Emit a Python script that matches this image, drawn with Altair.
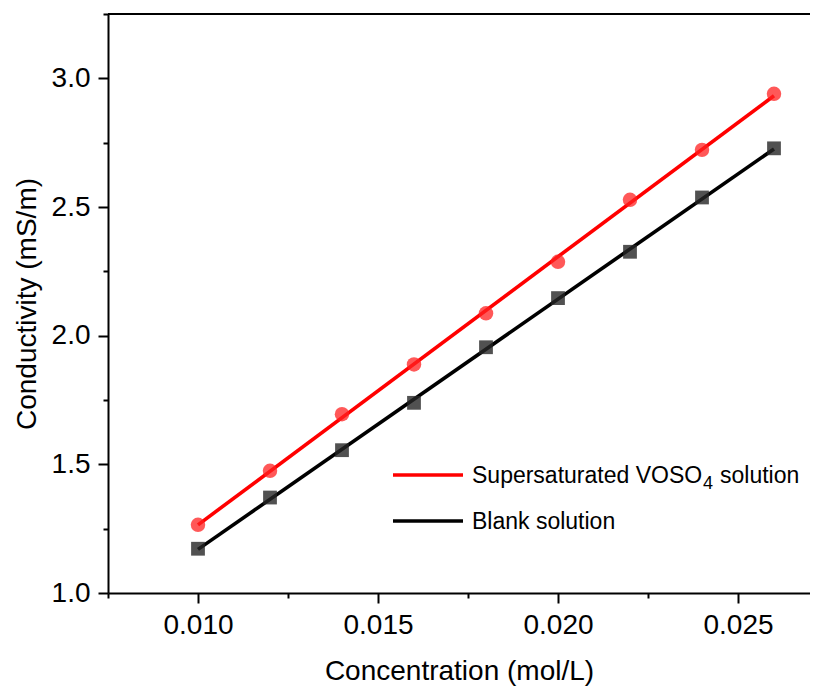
import altair as alt
import pandas as pd

# ---- data ----
concentration = [0.010, 0.012, 0.014, 0.016, 0.018, 0.020, 0.022, 0.024, 0.026]
supersaturated = [1.265, 1.475, 1.695, 1.888, 2.087, 2.287, 2.528, 2.722, 2.940]
blank = [1.172, 1.371, 1.555, 1.739, 1.955, 2.146, 2.326, 2.537, 2.728]

series_names = ["Supersaturated", "Blank"]
series_colors = ["#ff0000", "#000000"]
point_colors = ["#ff2020", "#262626"]

x_ticks = [0.0075, 0.010, 0.0125, 0.015, 0.0175, 0.020, 0.0225, 0.025]
y_ticks = [1.0, 1.25, 1.5, 1.75, 2.0, 2.25, 2.5, 2.75, 3.0, 3.25]

rows = []
for c, s, b in zip(concentration, supersaturated, blank):
    rows.append({"conc": c, "cond": s, "series": series_names[0]})
    rows.append({"conc": c, "cond": b, "series": series_names[1]})
df = pd.DataFrame(rows)

W, H = 702, 579
FONT = "Liberation Sans"

x_scale = alt.Scale(domain=[0.0075, 0.0270], nice=False, zero=False)
y_scale = alt.Scale(domain=[1.0, 3.25], nice=False, zero=False)

x_axis = alt.Axis(
    title="Concentration (mol/L)",
    values=x_ticks,
    grid=False,
    labelExpr="round(datum.value*400) % 2 == 1 ? '' : format(datum.value, '.3f')",
    tickSize={"condition": {"test": "round(datum.value*400) % 2 == 1", "value": 5}, "value": 10},
    labelFontSize=28,
    labelPadding=8,
    titleFontSize=28,
    titleFontWeight="normal",
    titlePadding=18,
)
y_axis = alt.Axis(
    title="Conductivity (mS/m)",
    values=y_ticks,
    grid=False,
    labelExpr="round(datum.value*4) % 2 == 1 ? '' : format(datum.value, '.1f')",
    tickSize={"condition": {"test": "round(datum.value*4) % 2 == 1", "value": 5}, "value": 10},
    labelFontSize=28,
    labelPadding=8,
    titleFontSize=28,
    titleFontWeight="normal",
    titlePadding=10,
)

color_scale = alt.Scale(domain=series_names, range=series_colors)

base = alt.Chart(df)

lines = base.transform_regression(
    "conc", "cond", groupby=["series"]
).mark_line(strokeWidth=3.6).encode(
    x=alt.X("conc:Q", scale=x_scale, axis=x_axis),
    y=alt.Y("cond:Q", scale=y_scale, axis=y_axis),
    color=alt.Color("series:N", scale=color_scale, legend=None),
)

circles = base.transform_filter(
    alt.datum.series == series_names[0]
).mark_point(shape="circle", filled=True, size=210, opacity=0.75, color=point_colors[0]).encode(
    x=alt.X("conc:Q", scale=x_scale),
    y=alt.Y("cond:Q", scale=y_scale),
)

squares = base.transform_filter(
    alt.datum.series == series_names[1]
).mark_point(shape="square", filled=True, size=190, opacity=0.8, color=point_colors[1]).encode(
    x=alt.X("conc:Q", scale=x_scale),
    y=alt.Y("cond:Q", scale=y_scale),
)

# top frame line
top_border = alt.Chart(pd.DataFrame({"a": [0]})).mark_rule(color="black", strokeWidth=2).encode(
    x=alt.value(0), x2=alt.value(W), y=alt.value(0)
)

# manual legend
leg_df = pd.DataFrame({"a": [0]})
leg_red = alt.Chart(leg_df).mark_rule(color=series_colors[0], strokeWidth=3.6).encode(
    x=alt.value(285), x2=alt.value(355), y=alt.value(461)
)
leg_black = alt.Chart(leg_df).mark_rule(color=series_colors[1], strokeWidth=3.6).encode(
    x=alt.value(285), x2=alt.value(355), y=alt.value(507)
)
t1 = alt.Chart(leg_df).mark_text(
    text="Supersaturated VOSO", align="left", baseline="middle", font=FONT, fontSize=23, color="black"
).encode(x=alt.value(364), y=alt.value(462))
t2 = alt.Chart(leg_df).mark_text(
    text="4", align="left", baseline="middle", font=FONT, fontSize=18, color="black"
).encode(x=alt.value(595), y=alt.value(470))
t3 = alt.Chart(leg_df).mark_text(
    text="solution", align="left", baseline="middle", font=FONT, fontSize=23, color="black"
).encode(x=alt.value(612), y=alt.value(462))
t4 = alt.Chart(leg_df).mark_text(
    text="Blank solution", align="left", baseline="middle", font=FONT, fontSize=23, color="black"
).encode(x=alt.value(364), y=alt.value(508))

chart = alt.layer(
    lines, circles, squares, top_border, leg_red, leg_black, t1, t2, t3, t4
).properties(
    width=W,
    height=H,
    autosize=alt.AutoSizeParams(type="none"),
    padding={"left": 100, "top": 6, "right": 0, "bottom": 98},
).configure_view(
    stroke=None
).configure_axis(
    domainColor="black",
    domainWidth=2,
    tickColor="black",
    tickWidth=2,
    labelColor="black",
    titleColor="black",
    labelFont=FONT,
    titleFont=FONT,
)

chart.save("out.html", embed_options={"renderer": "svg", "actions": False})
